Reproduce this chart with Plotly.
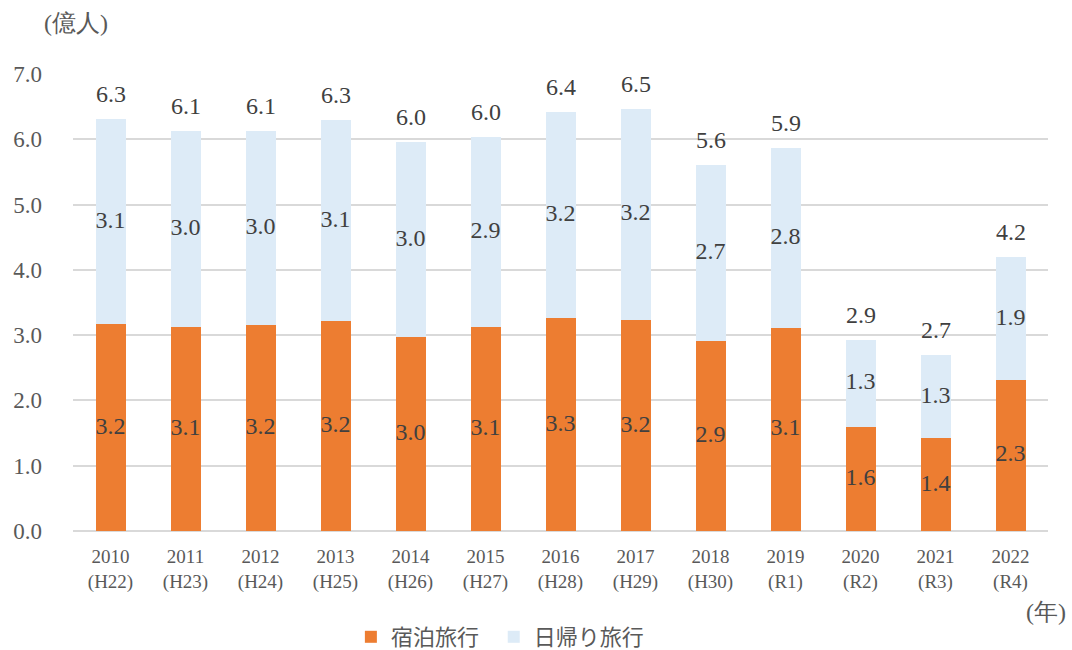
import plotly.graph_objects as go

years = ["2010", "2011", "2012", "2013", "2014", "2015", "2016", "2017", "2018", "2019", "2020", "2021", "2022"]
eras = ["H22", "H23", "H24", "H25", "H26", "H27", "H28", "H29", "H30", "R1", "R2", "R3", "R4"]
stay = [3.17, 3.13, 3.16, 3.21, 2.97, 3.13, 3.26, 3.23, 2.91, 3.11, 1.60, 1.42, 2.32]
day = [3.14, 2.99, 2.97, 3.09, 2.99, 2.91, 3.16, 3.24, 2.70, 2.76, 1.33, 1.27, 1.87]

cats = [f"{y}<br>({e})" for y, e in zip(years, eras)]
total = [s + d for s, d in zip(stay, day)]

SERIF = "Liberation Serif"
TXT = "#404040"
AX = "#595959"
ORANGE = "#ED7D31"
BLUE = "#DDEBF7"
NB = "\u00a0"

fig = go.Figure()
fig.add_trace(go.Bar(x=cats, y=stay, name="宿泊旅行" + NB * 2, marker=dict(color=ORANGE, line=dict(width=0)), hoverinfo="skip"))
fig.add_trace(go.Bar(x=cats, y=day, name="日帰り旅行", marker=dict(color=BLUE, line=dict(width=0)), hoverinfo="skip"))

fig.add_trace(go.Scatter(x=cats, y=[s / 2 for s in stay], mode="text",
                         text=[f"{v:.1f}" for v in stay], textposition="middle center",
                         textfont=dict(family=SERIF, size=24, color=TXT), showlegend=False, hoverinfo="skip"))
fig.add_trace(go.Scatter(x=cats, y=[s + d / 2 for s, d in zip(stay, day)], mode="text",
                         text=[f"{v:.1f}" for v in day], textposition="middle center",
                         textfont=dict(family=SERIF, size=24, color=TXT), showlegend=False, hoverinfo="skip"))

annotations = [
    dict(x=c, y=t, xref="x", yref="y", text=f"{t:.1f}", showarrow=False, yanchor="middle", yshift=25,
         font=dict(family=SERIF, size=24, color=TXT))
    for c, t in zip(cats, total)
]
annotations += [
    dict(text="(億人)", xref="paper", yref="paper", x=-0.032, y=1.112, xanchor="left", yanchor="middle",
         showarrow=False, font=dict(family=SERIF, size=24, color=AX)),
    dict(text="(年)", xref="paper", yref="paper", x=1.0205, y=-0.177, xanchor="right", yanchor="middle",
         showarrow=False, font=dict(family=SERIF, size=24, color=AX)),
]

fig.update_layout(
    width=1072, height=650,
    barmode="stack", bargap=0.6,
    plot_bgcolor="white", paper_bgcolor="white",
    margin=dict(l=73, r=24, t=74, b=119),
    font=dict(family=SERIF, color=AX),
    xaxis=dict(range=[-0.5, 12.5], tickfont=dict(family=SERIF, size=19, color=AX), showgrid=False,
               showline=False, ticks="", tickangle=0, automargin=False, ticklabelstandoff=12),
    yaxis=dict(range=[0, 7], dtick=1, tickformat=".1f", showgrid=True, gridcolor="#D9D9D9", gridwidth=1.5,
               zeroline=True, zerolinecolor="#D9D9D9", zerolinewidth=1.5, automargin=False,
               tickfont=dict(family=SERIF, size=23, color=AX), ticks="", ticklabelstandoff=30),
    legend=dict(orientation="h", x=0.285, xanchor="left", y=0.02, yref="container", yanchor="middle",
                font=dict(family="Noto Sans CJK JP", size=22, color=AX),
                itemwidth=30, traceorder="normal"),
    showlegend=True,
    annotations=annotations,
)

fig.write_html("out.html")
